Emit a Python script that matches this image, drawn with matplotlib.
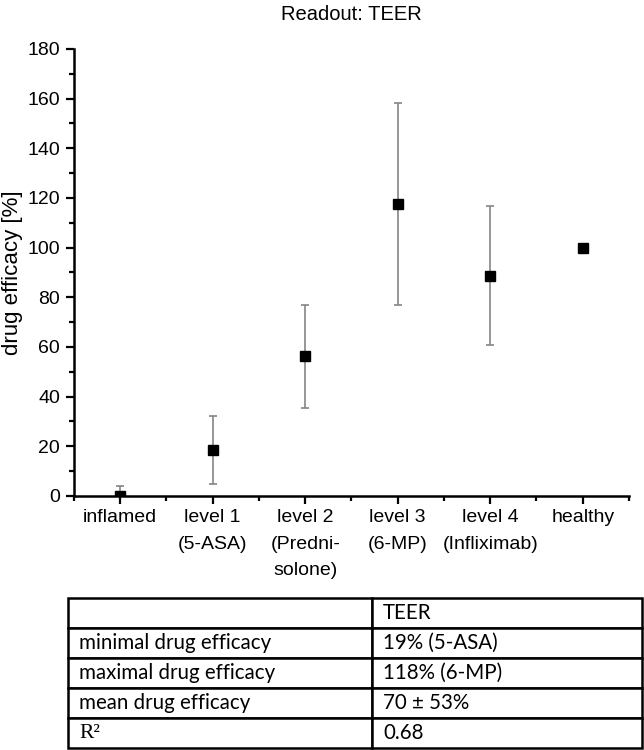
import matplotlib.pyplot as plt
import numpy as np

# Readout: TEER - drug efficacy per treatment level
categories = ['inflamed', 'level 1\n(5-ASA)', 'level 2\n(Predni-\nsolone)',
              'level 3\n(6-MP)', 'level 4\n(Infliximab)', 'healthy']
efficacy = [0, 18.5, 56.2, 117.6, 88.6, 100]
efficacy_sd = [4, 13.6, 20.9, 40.5, 28.0, 0]

table_header = ['', 'TEER']
table_rows = ['minimal drug efficacy', 'maximal drug efficacy', 'mean drug efficacy', 'R²']
table_values = ['19% (5-ASA)', '118% (6-MP)', '70 ± 53%', '0.68']

plt.rcParams['font.family'] = ['Liberation Sans', 'DejaVu Sans']

fig = plt.figure(figsize=(6.44, 7.5), dpi=100)
ax = fig.add_axes([0.1149, 0.3387, 0.8618, 0.596])

x = np.arange(len(categories))
ax.errorbar(x, efficacy, yerr=efficacy_sd, fmt='none', ecolor='#858585',
            elinewidth=1.2, capsize=3, capthick=1.2, zorder=2)
ax.plot(x, efficacy, 's', color='black', markersize=7.5, zorder=3)

ax.set_xlim(-0.5, 5.5)
ax.set_ylim(0, 180)
ax.set_yticks(np.arange(0, 181, 20))
ax.set_yticks(np.arange(0, 181, 10), minor=True)
ax.set_xticks(x)
ax.set_xticklabels(categories, fontsize=14, linespacing=1.72)
ax.set_xticks(np.arange(-0.5, 5.6, 1), minor=True)
ax.tick_params(axis='y', labelsize=14, pad=4)
ax.tick_params(which='major', length=6, width=1.6, direction='out')
ax.tick_params(which='minor', length=3.5, width=1.6, direction='out')
for s in ['top', 'right']:
    ax.spines[s].set_visible(False)
for s in ['left', 'bottom']:
    ax.spines[s].set_linewidth(1.8)

ax.set_ylabel('drug efficacy [%]', fontsize=16, labelpad=3)
ax.set_title('Readout: TEER', fontsize=14.5, pad=21)

# summary table
tax = fig.add_axes([68 / 644, 1 - 748 / 750, 574 / 644, 150 / 750])
tax.axis('off')
cell_text = [table_header] + [[r, v] for r, v in zip(table_rows, table_values)]
tbl = tax.table(cellText=cell_text, bbox=[0, 0, 1, 1], colWidths=[0.53, 0.47],
                cellLoc='left')
tbl.auto_set_font_size(False)
for (r, c), cell in tbl.get_celld().items():
    cell.set_linewidth(1.8)
    cell.set_edgecolor('black')
    cell.PAD = 0.036 if c == 0 else 0.04
    cell.get_text().set_fontsize(14.8)
    cell.get_text().set_family(['Lato', 'DejaVu Sans'])
    if r == 4 and c == 0:
        cell.get_text().set_family(['Liberation Serif'])
        cell.get_text().set_fontsize(15.5)

fig.savefig('out.png', dpi=100)
